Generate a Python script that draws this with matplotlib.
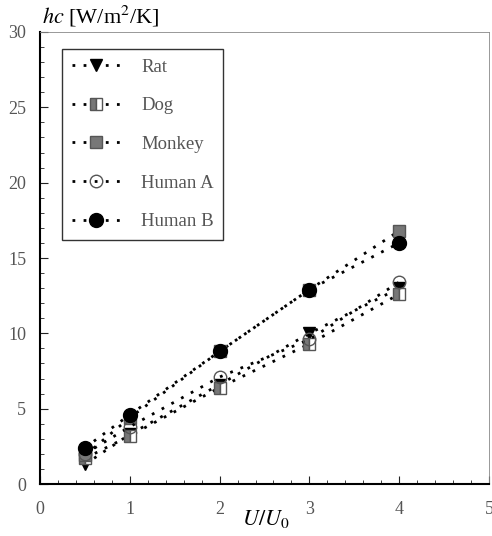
import matplotlib.pyplot as plt
from matplotlib.ticker import MultipleLocator

plt.rcParams['font.family'] = ['Liberation Serif', 'DejaVu Serif']
plt.rcParams['mathtext.fontset'] = 'stix'

x = [0.5, 1, 2, 3, 4]
rat = [1.3, 3.3, 6.6, 10.0, 13.0]
dog = [1.7, 3.2, 6.4, 9.3, 12.6]
monkey = [1.9, 4.4, 8.8, 12.9, 16.8]
human_a = [2.0, 3.8, 7.1, 9.6, 13.4]
human_b = [2.4, 4.6, 8.8, 12.9, 16.0]

fig = plt.figure(figsize=(4.92, 5.36), dpi=100)
ax = fig.add_axes([0.0813, 0.097, 0.9126, 0.8433])

ls = (0, (1, 3))
ax.plot(x, rat, ls=ls, lw=2, color='black', marker='v', ms=9, mfc='black', mec='black', label='Rat')
ax.plot(x, dog, ls=ls, lw=2, color='black', marker='s', ms=9, fillstyle='left',
        mfc='#777777', mfcalt='white', mec='#555555', label='Dog')
ax.plot(x, monkey, ls=ls, lw=2, color='black', marker='s', ms=9, mfc='#777777', mec='#555555', label='Monkey')
ax.plot(x, human_a, ls=ls, lw=2, color='black', marker='o', ms=9, mfc='none', mec='#555555', label='Human A')
ax.plot(x, human_b, ls=ls, lw=2, color='black', marker='o', ms=10, mfc='black', mec='black', label='Human B')

ax.set_xlim(0, 5)
ax.set_ylim(0, 30)
ax.xaxis.set_major_locator(MultipleLocator(1))
ax.xaxis.set_minor_locator(MultipleLocator(0.2))
ax.yaxis.set_major_locator(MultipleLocator(5))
ax.yaxis.set_minor_locator(MultipleLocator(1))
ax.tick_params(which='both', direction='in', top=False, right=False, colors='#222222',
               labelcolor='#555555', labelsize=13)
ax.tick_params(axis='x', which='major', length=6, pad=12)
ax.tick_params(axis='y', which='major', length=6, pad=10)
ax.tick_params(which='minor', length=3)
for side in ['left', 'bottom']:
    ax.spines[side].set_linewidth(1.5)
for side in ['top', 'right']:
    ax.spines[side].set_linewidth(0.6)
    ax.spines[side].set_color('#888888')

leg = ax.legend(loc='upper left', bbox_to_anchor=(0.05, 0.962), fontsize=13.5, frameon=True,
                fancybox=False, edgecolor='black', labelspacing=1.15, handlelength=2.6,
                borderpad=0.5, handletextpad=1.1, borderaxespad=0)
leg._legend_box.align = 'left'
for t in leg.get_texts():
    t.set_color('#555555')

fig.text(0.085, 0.945, r'$hc$ [W/m$^2$/K]', fontsize=16, ha='left', va='bottom')
fig.text(0.54, 0.012, r'$U/U_0$', fontsize=16, ha='center', va='bottom')

fig.savefig('out.png', dpi=100)
